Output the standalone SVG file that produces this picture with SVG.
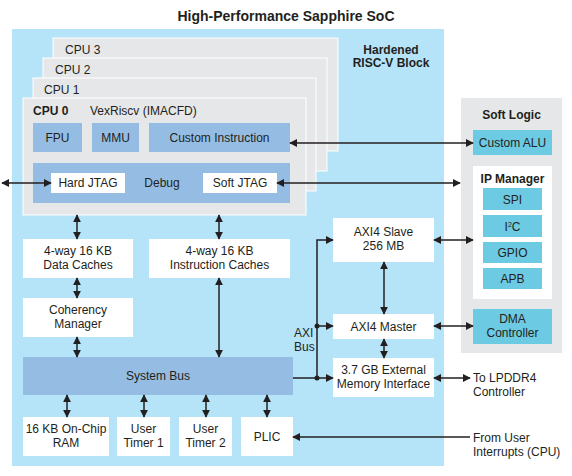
<svg xmlns="http://www.w3.org/2000/svg" width="572" height="476" viewBox="0 0 572 476">
<defs>
<marker id="ah" viewBox="0 0 10 10" refX="9" refY="5" markerWidth="8" markerHeight="8" markerUnits="userSpaceOnUse" orient="auto-start-reverse">
<path d="M0,0 L10,5 L0,10 z" fill="#231f20"/>
</marker>
<style>
text{font-family:"Liberation Sans",Arial,sans-serif;font-size:12px;fill:#231f20}
.b{font-weight:bold}
.t{font-size:14px;font-weight:bold}
.c{text-anchor:middle}
.card{fill:#e6e7e8;stroke:#ffffff;stroke-width:1}
.w{fill:#ffffff}
.mb{fill:#95bde3}
.cy{fill:#6dcae3}
.ln{stroke:#231f20;stroke-width:1.5;fill:none}
.da{marker-start:url(#ah);marker-end:url(#ah)}
.sa{marker-end:url(#ah)}
</style>
</defs>
<rect width="572" height="476" fill="#ffffff"/>
<text class="t c" x="286" y="21">High-Performance Sapphire SoC</text>
<g id="hardened">
<rect x="12" y="29" width="432" height="437" fill="#b5e3f8"/>
<text class="b c" x="391" y="54">Hardened</text>
<text class="b c" x="391" y="67">RISC-V Block</text>
</g>
<g id="cpu3"><rect class="card" x="53" y="38" width="285" height="113"/><text x="65" y="54">CPU 3</text></g>
<g id="cpu2"><rect class="card" x="43" y="58" width="284" height="113"/><text x="55" y="74">CPU 2</text></g>
<g id="cpu1"><rect class="card" x="33" y="78" width="283" height="113"/><text x="44" y="94">CPU 1</text></g>
<g id="cpu0">
<rect class="card" x="23" y="98" width="283" height="117"/>
<text class="b" x="33" y="115">CPU 0</text>
<text x="90" y="115">VexRiscv (IMACFD)</text>
</g>
<g id="fpu"><rect class="mb" x="33" y="123" width="49" height="29"/><text class="c" x="57.5" y="141.5">FPU</text></g>
<g id="mmu"><rect class="mb" x="92" y="123" width="47" height="29"/><text class="c" x="115.5" y="141.5">MMU</text></g>
<g id="custom-instruction"><rect class="mb" x="149" y="123" width="141" height="29"/><text class="c" x="219.5" y="141.5">Custom Instruction</text></g>
<g id="debug">
<rect class="mb" x="33" y="163" width="257" height="40"/>
<text class="c" x="162" y="187">Debug</text>
</g>
<g id="hard-jtag"><rect class="w" x="51" y="173" width="74" height="20"/><text class="c" x="88" y="187">Hard JTAG</text></g>
<g id="soft-jtag"><rect class="w" x="203" y="173" width="74" height="20"/><text class="c" x="240" y="187">Soft JTAG</text></g>
<g id="data-caches"><rect class="w" x="23" y="239" width="110" height="39"/><text class="c" x="78" y="255">4-way 16 KB</text><text class="c" x="78" y="269">Data Caches</text></g>
<g id="instruction-caches"><rect class="w" x="149" y="239" width="141" height="39"/><text class="c" x="219.5" y="255">4-way 16 KB</text><text class="c" x="219.5" y="269">Instruction Caches</text></g>
<g id="coherency-manager"><rect class="w" x="23" y="298" width="110" height="39"/><text class="c" x="78" y="314">Coherency</text><text class="c" x="78" y="328">Manager</text></g>
<g id="system-bus"><rect class="mb" x="23" y="357" width="270" height="38"/><text class="c" x="158" y="380">System Bus</text></g>
<g id="ram"><rect class="w" x="23" y="417" width="86" height="39"/><text class="c" x="66" y="433">16 KB On-Chip</text><text class="c" x="66" y="447">RAM</text></g>
<g id="timer1"><rect class="w" x="117" y="417" width="53" height="39"/><text class="c" x="143.5" y="433">User</text><text class="c" x="143.5" y="447">Timer 1</text></g>
<g id="timer2"><rect class="w" x="179" y="417" width="53" height="39"/><text class="c" x="205.5" y="433">User</text><text class="c" x="205.5" y="447">Timer 2</text></g>
<g id="plic"><rect class="w" x="241" y="417" width="52" height="39"/><text class="c" x="267" y="441">PLIC</text></g>
<g id="axi4-slave"><rect class="w" x="333" y="218" width="101" height="44"/><text class="c" x="383.5" y="236">AXI4 Slave</text><text class="c" x="383.5" y="250">256 MB</text></g>
<g id="axi4-master"><rect class="w" x="333" y="314" width="101" height="25"/><text class="c" x="383.5" y="331">AXI4 Master</text></g>
<g id="ext-mem"><rect class="w" x="333" y="358" width="101" height="39"/><text class="c" x="383.5" y="374">3.7 GB External</text><text class="c" x="383.5" y="388">Memory Interface</text></g>
<g id="axi-bus-label"><text x="294" y="337">AXI</text><text x="294" y="351">Bus</text></g>
<g id="soft-logic">
<rect x="461" y="98" width="101" height="255" fill="#e6e7e8"/>
<text class="b c" x="511.5" y="119">Soft Logic</text>
</g>
<g id="custom-alu"><rect class="cy" x="473" y="130" width="79" height="25"/><text class="c" x="512.5" y="147">Custom ALU</text></g>
<g id="ip-manager">
<rect class="w" x="473" y="166" width="79" height="133"/>
<text class="b c" x="512.5" y="183">IP Manager</text>
</g>
<g id="spi"><rect class="cy" x="483" y="188" width="59" height="22"/><text class="c" x="512.5" y="203.5">SPI</text></g>
<g id="i2c"><rect class="cy" x="483" y="215" width="59" height="22"/><text class="c" x="512.5" y="230.5">I<tspan font-size="7" dy="-4">2</tspan><tspan dy="4">C</tspan></text></g>
<g id="gpio"><rect class="cy" x="483" y="242" width="59" height="21"/><text class="c" x="512.5" y="257">GPIO</text></g>
<g id="apb"><rect class="cy" x="483" y="268" width="59" height="21"/><text class="c" x="512.5" y="283">APB</text></g>
<g id="dma"><rect class="cy" x="473" y="309" width="79" height="35"/><text class="c" x="512.5" y="323">DMA</text><text class="c" x="512.5" y="337">Controller</text></g>
<g id="ext-labels">
<text x="473" y="382">To LPDDR4</text>
<text x="473" y="396">Controller</text>
<text x="473" y="442">From User</text>
<text x="473" y="456">Interrupts (CPU)</text>
</g>
<g id="connectors">
<line class="ln da" x1="2" y1="183" x2="51" y2="183"/>
<line class="ln da" x1="277" y1="183" x2="460" y2="183"/>
<line class="ln da" x1="290" y1="143" x2="473" y2="143"/>
<line class="ln da" x1="77" y1="215" x2="77" y2="239"/>
<line class="ln da" x1="219" y1="215" x2="219" y2="239"/>
<line class="ln da" x1="77" y1="278" x2="77" y2="298"/>
<line class="ln da" x1="77" y1="337" x2="77" y2="357"/>
<line class="ln da" x1="219" y1="278" x2="219" y2="357"/>
<line class="ln da" x1="67" y1="395" x2="67" y2="417"/>
<line class="ln da" x1="144" y1="395" x2="144" y2="417"/>
<line class="ln da" x1="206" y1="395" x2="206" y2="417"/>
<line class="ln da" x1="267" y1="395" x2="267" y2="417"/>
<path class="ln sa" d="M317,378 L317,240 L333,240"/>
<line class="ln" x1="293" y1="378" x2="317" y2="378"/>
<line class="ln sa" x1="317" y1="326" x2="333" y2="326"/>
<line class="ln sa" x1="317" y1="378" x2="333" y2="378"/>
<circle cx="317" cy="326" r="2.5" fill="#231f20"/>
<circle cx="317" cy="378" r="2.5" fill="#231f20"/>
<line class="ln da" x1="384" y1="262" x2="384" y2="314"/>
<line class="ln da" x1="384" y1="339" x2="384" y2="358"/>
<line class="ln da" x1="434" y1="240" x2="473" y2="240"/>
<line class="ln da" x1="434" y1="326" x2="473" y2="326"/>
<line class="ln da" x1="434" y1="378" x2="470" y2="378"/>
<line class="ln sa" x1="470" y1="437" x2="293" y2="437"/>
</g>
</svg>
